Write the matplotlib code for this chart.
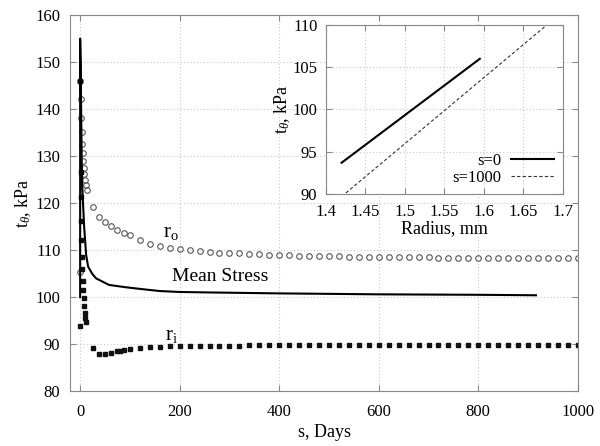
import numpy as np
import matplotlib
matplotlib.use("Agg")
import matplotlib.pyplot as plt

plt.rcParams['font.family'] = ['Liberation Serif', 'DejaVu Serif']
plt.rcParams['mathtext.fontset'] = 'custom'
plt.rcParams['mathtext.rm'] = 'Liberation Serif'
plt.rcParams['mathtext.it'] = 'Liberation Serif:italic'
plt.rcParams['font.size'] = 12

# mean stress curve
mean_s = [0, 0, 1, 2, 3, 4, 8, 12, 16, 24, 32, 58, 92, 125, 160, 200, 260, 400, 600, 800, 916]
mean_t = [100, 155, 150, 140, 130, 124, 115, 109, 106.5, 105, 104, 102.6, 102.1, 101.7, 101.3,
          101.1, 101.0, 100.8, 100.6, 100.5, 100.4]

# outer radius (circles)
ro_s = [0, 0.5, 1.5, 2.5, 3.5, 4.5, 5.5, 6.5, 7.5, 8.5, 9.5, 11, 13,
        25, 37.5, 50, 62.5, 75, 87.5, 100,
        120, 140, 160, 180, 200, 220, 240, 260, 280, 300, 320, 340, 360, 380, 400,
        420, 440, 460, 480, 500, 520, 540, 560, 580, 600, 620, 640, 660, 680, 700,
        720, 740, 760, 780, 800, 820, 840, 860, 880, 900, 920, 940, 960, 980, 1000]
ro_t = [105.4, 146, 142.1, 138.1, 135.1, 132.6, 130.6, 128.9, 127.4, 126.2, 124.9, 123.8, 122.8,
        119.1, 117.1, 115.9, 115.1, 114.3, 113.7, 113.2,
        112.1, 111.4, 110.9, 110.4, 110.2, 110.0, 109.8, 109.6, 109.5, 109.4, 109.3, 109.2, 109.1,
        109.0, 108.95, 108.9, 108.85, 108.8, 108.75, 108.7, 108.65, 108.6, 108.6, 108.55, 108.5,
        108.5, 108.5, 108.45, 108.45, 108.45, 108.4, 108.4, 108.4, 108.4, 108.4, 108.4, 108.4,
        108.4, 108.4, 108.4, 108.4, 108.4, 108.4, 108.4, 108.4]

# inner radius (squares)
ri_s = [0, 0.5, 1, 1.5, 2, 2.5, 3, 4, 5, 6, 7, 8, 9, 10, 11,
        25, 37.5, 50, 62.5, 75, 80, 87.5, 100,
        120, 140, 160, 180, 200, 220, 240, 260, 280, 300, 320, 340, 360, 380, 400,
        420, 440, 460, 480, 500, 520, 540, 560, 580, 600, 620, 640, 660, 680, 700,
        720, 740, 760, 780, 800, 820, 840, 860, 880, 900, 920, 940, 960, 980, 1000]
ri_t = [93.8, 146, 126.7, 121.3, 116.2, 112.1, 108.6, 106.0, 103.4, 101.5, 99.9, 98.1, 96.7, 95.6, 94.7,
        89.2, 88.0, 88.0, 88.1, 88.5, 88.5, 88.7, 88.9,
        89.1, 89.3, 89.4, 89.5, 89.6, 89.6, 89.6, 89.7, 89.7, 89.7, 89.7, 89.75, 89.8, 89.8, 89.8,
        89.8, 89.8, 89.8, 89.8, 89.8, 89.8, 89.8, 89.8, 89.8, 89.8, 89.8, 89.8, 89.8, 89.8, 89.8,
        89.8, 89.8, 89.8, 89.8, 89.8, 89.8, 89.8, 89.8, 89.8, 89.8, 89.8, 89.8, 89.8, 89.8, 89.8]

# inset: hoop stress across the wall
r_s0 = [1.42, 1.595]
t_s0 = [93.7, 106.0]
r_s1000 = [1.42, 1.69]
t_s1000 = [89.7, 110.8]


def gnuplot_style(ax):
    ax.tick_params(direction='in', top=True, right=True, length=4, color='#888888')
    for sp in ax.spines.values():
        sp.set_color('#888888')
    ax.grid(True, linestyle=(0, (1, 2)), color='#c8c8c8', linewidth=0.8)
    ax.set_axisbelow(True)


fig = plt.figure(figsize=(6, 4.46), dpi=100)
ax = fig.add_axes([0.117, 0.123, 0.846, 0.843])
gnuplot_style(ax)
ax.tick_params(axis='x', pad=9)
ax.tick_params(axis='y', pad=7)

ax.plot(ro_s, ro_t, 'o', mfc='none', mec='#555555', ms=4, mew=0.8)
ax.plot(ri_s, ri_t, 's', color='#111111', ms=3.5)
ax.plot(mean_s, mean_t, '-', color='black', lw=1.5)

ax.text(183, 113.8, r'$\mathrm{r_o}$', fontsize=15, ha='center', va='center')
ax.text(183, 91.9, r'$\mathrm{r_i}$', fontsize=15, ha='center', va='center')
ax.text(184, 104.3, 'Mean Stress', fontsize=14, ha='left', va='center')

ax.set_xlim(-20, 1000)
ax.set_ylim(80, 160)
ax.set_xticks([0, 200, 400, 600, 800, 1000])
ax.set_yticks(range(80, 161, 10))
ax.set_xlabel('s, Days', fontsize=13, labelpad=3)
ax.set_ylabel(r'$\mathrm{t}_{\theta}$, kPa', fontsize=13, labelpad=2)

axin = fig.add_axes([0.543, 0.565, 0.395, 0.379])
gnuplot_style(axin)
axin.set_facecolor('white')
axin.tick_params(axis='x', pad=7)
axin.tick_params(axis='y', pad=6)
axin.plot(r_s0, t_s0, '-', color='black', lw=1.5, label='s=0')
axin.plot(r_s1000, t_s1000, '--', color='#333333', lw=0.8, dashes=(3, 2), label='s=1000')
axin.set_xlim(1.4, 1.7)
axin.set_ylim(90, 110)
axin.set_xticks([1.4, 1.45, 1.5, 1.55, 1.6, 1.65, 1.7])
axin.set_xticklabels(['1.4', '1.45', '1.5', '1.55', '1.6', '1.65', '1.7'])
axin.set_yticks([90, 95, 100, 105, 110])
axin.set_xlabel('Radius, mm', fontsize=13, labelpad=0)
axin.set_ylabel(r'$\mathrm{t}_{\theta}$, kPa', fontsize=13, labelpad=0)
axin.legend(loc='lower right', markerfirst=False, frameon=False, handlelength=2.6,
            fontsize=12, borderaxespad=0.1, labelspacing=0.05, handletextpad=0.6)

fig.savefig('out.png', dpi=100)
